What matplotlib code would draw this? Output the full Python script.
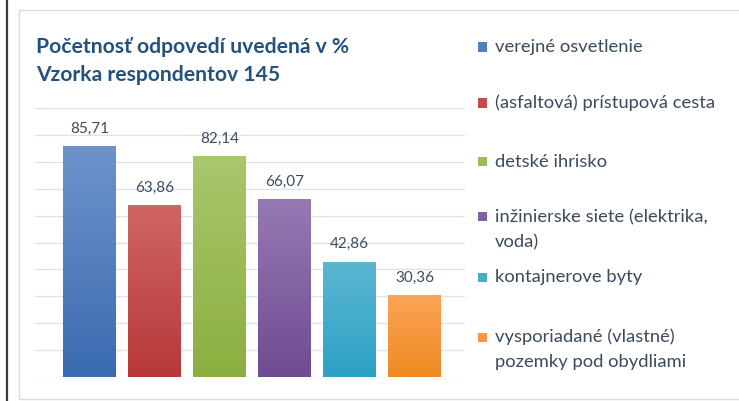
import numpy as np
import matplotlib
matplotlib.use("Agg")
import matplotlib.pyplot as plt
from matplotlib.patches import Rectangle
from matplotlib.lines import Line2D

#chart data
categories=["verejné osvetlenie","(asfaltová) prístupová cesta","detské ihrisko",
            "inžinierske siete (elektrika,\nvoda)","kontajnerove byty",
            "vysporiadané (vlastné)\npozemky pod obydliami"]
values=[85.71,63.86,82.14,66.07,42.86,30.36]
value_labels=["85,71","63,86","82,14","66,07","42,86","30,36"]
title_lines=["Početnosť odpovedí uvedená v %","Vzorka respondentov 145"]

#colors (top, bottom) for the gradient bars
top_colors=["#6E93CB","#CF6664","#A9C76D","#9579B3","#5DB6D2","#FAA457"]
bottom_colors=["#3A6BB0","#B73839","#8BAF3F","#6E4C92","#2DA1C6","#EF8A22"]
base_colors=["#4F7FC0","#C24B4B","#9BBB55","#8064A2","#4BACC6","#F79646"]

W,H=739,401
plt.rcParams['font.family']=['Lato','DejaVu Sans']
fig=plt.figure(figsize=(W/100,H/100),dpi=100)
fig.patch.set_facecolor("white")

#outer frame and left border line
fig.patches.append(Rectangle((19/W,1-399/H),(W+5-19)/W,(399-10)/H,transform=fig.transFigure,
                             facecolor="white",edgecolor="#D5DCE4",linewidth=1.0,zorder=0))
fig.lines.append(Line2D([6.5/W,6.5/W],[0,1],transform=fig.transFigure,color="#3A3A3A",linewidth=1.6))

#plot area
ax=fig.add_axes([35/W,1-377/H,430/W,(377-108)/H],zorder=2)
ax.set_xlim(-0.838,5.777)
ax.set_ylim(0,100)
ax.set_yticks(np.arange(0,101,10))
ax.grid(axis="y",color="#DDE3EA",linewidth=1.0)
ax.set_axisbelow(True)
for s in ax.spines.values():
    s.set_visible(False)
ax.tick_params(left=False,bottom=False,labelleft=False,labelbottom=False)
ax.patch.set_alpha(0)

x=np.arange(len(values))
bars=ax.bar(x,values,width=0.8,color=base_colors,zorder=2)
for b,c1,c2 in zip(bars,top_colors,bottom_colors):
    c1=np.array(matplotlib.colors.to_rgb(c1));c2=np.array(matplotlib.colors.to_rgb(c2))
    t=np.linspace(0,1,100)[:,None]
    grad=(c1*(1-t)+c2*t)[:,None,:]
    im=ax.imshow(grad,extent=(b.get_x(),b.get_x()+b.get_width(),0,b.get_height()),
                 aspect="auto",zorder=3,origin="upper")
    im.set_clip_path(b)

for xi,v,lab in zip(x,values,value_labels):
    ax.annotate(lab,(xi,v),xytext=(0,7.5),textcoords="offset points",ha="center",va="bottom",
                fontsize=11,color="#3D4B5C")

#title
fig.text(36/W,1-47/H,title_lines[0],fontsize=15.2,fontweight="bold",color="#24527C",va="center")
fig.text(36/W,1-75/H,title_lines[1],fontsize=15.2,fontweight="bold",color="#24527C",va="center")

#legend (manual, like the excel layout)
legend_y=[47,103,162,217,277,337]
for lab,c,y in zip(categories,base_colors,legend_y):
    fig.patches.append(Rectangle((478/W,1-(y+4.5)/H),9/W,9/H,transform=fig.transFigure,
                                 facecolor=c,edgecolor="none"))
    for k,line in enumerate(lab.split("\n")):
        fig.text(495/W,1-(y+k*25)/H,line,fontsize=13.2,color="#3B4A5C",va="center")

fig.savefig("out.png",dpi=100)
